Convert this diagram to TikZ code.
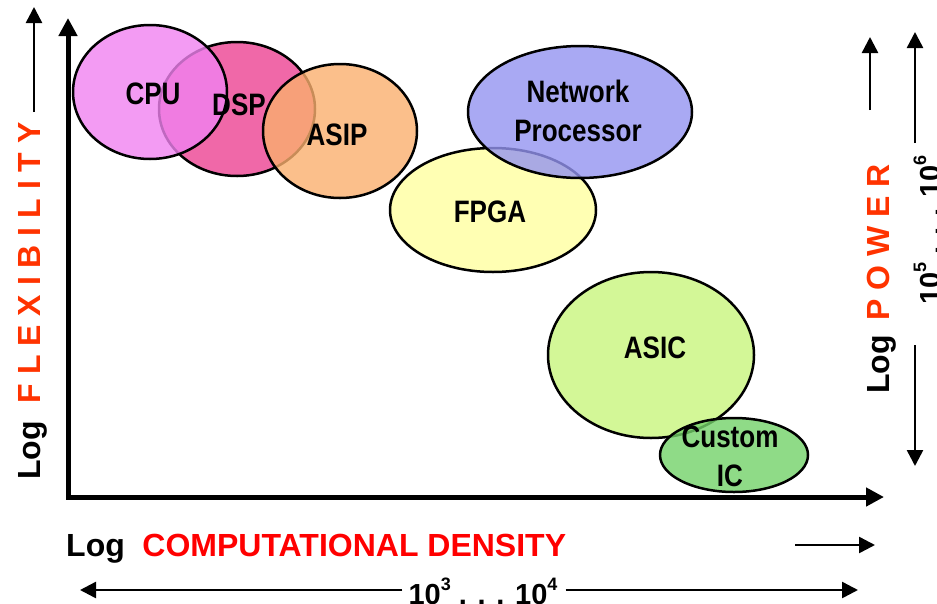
\documentclass[tikz,border=0pt]{standalone}
\usepackage{fontspec}
\setmainfont{Liberation Sans}
\usetikzlibrary{arrows.meta}

\definecolor{cpuFill}{RGB}{240,130,240}
\definecolor{dspFill}{RGB}{236,66,146}
\definecolor{asipFill}{RGB}{250,175,110}
\definecolor{fpgaFill}{RGB}{255,255,160}
\definecolor{npFill}{RGB}{148,148,240}
\definecolor{asicFill}{RGB}{200,245,125}
\definecolor{cicFill}{RGB}{115,210,105}
\definecolor{densRed}{RGB}{255,0,0}
\definecolor{axisOrange}{RGB}{255,51,0}

% small raised exponent for the scale labels
\newcommand\expnum[1]{\raisebox{14pt}{\fontsize{18}{18}\selectfont #1}}

\begin{document}
\begin{tikzpicture}[x=1pt,y=-1pt,
  blob/.style={draw=black,line width=2.5pt,fill opacity=0.8},
  blobtext/.style={font=\fontsize{31}{39}\selectfont\bfseries,xscale=0.84,align=center,inner sep=0pt},
  axistext/.style={font=\fontsize{32}{32}\selectfont\bfseries,inner sep=0pt},
  scaletext/.style={font=\fontsize{29}{29}\selectfont\bfseries,inner sep=0pt},
  axisline/.style={line width=5pt,line join=miter,
    arrows={Triangle[length=18pt,width=18pt]-Triangle[length=18pt,width=18pt]}},
  thinarrow/.style={line width=2.5pt,-{Triangle[length=16pt,width=16pt]}},
]
\useasboundingbox (0,0) rectangle (937,603);
\clip (0,0) rectangle (937,603);

% technology regions (lower ones first)
\draw[blob,fill=dspFill]  (237,109) ellipse [x radius=78,  y radius=67];
\draw[blob,fill=cpuFill]  (150,92)  ellipse [x radius=77,  y radius=67];
\draw[blob,fill=asipFill] (340,131) ellipse [x radius=77,  y radius=67];
\draw[blob,fill=fpgaFill] (493,210) ellipse [x radius=103, y radius=62];
\draw[blob,fill=npFill]   (580,112) ellipse [x radius=112, y radius=66];
\draw[blob,fill=asicFill] (651,355) ellipse [x radius=103, y radius=83];
\draw[blob,fill=cicFill]  (734,455) ellipse [x radius=74,  y radius=37];

% region labels
\node[blobtext] (cpu)  at (153,94)  {CPU};
\node[blobtext] (dsp)  at (239,105) {DSP};
\node[blobtext] (asip) at (337,135) {ASIP};
\node[blobtext] (np)   at (578,111) {Network\\Processor};
\node[blobtext] (fpga) at (490,212) {FPGA};
\node[blobtext] (asic) at (655,348) {ASIC};
\node[blobtext] (cic)  at (730,456) {Custom\\IC};

% axes
\coordinate (origin) at (68,497);
\coordinate (ytip) at (68,18);
\coordinate (xtip) at (884,497);
\draw[axisline] (ytip) -- (origin) -- (xtip);

% axis titles
\node[axistext,rotate=90,anchor=base] (flex) at (40,301)
  {Log\hspace{0.55em}{\color{axisOrange}F L E X I B I L I T Y}};
\node[axistext,anchor=base west] (dens) at (66,556)
  {Log\hspace{0.55em}{\color{densRed}COMPUTATIONAL DENSITY}};
\node[axistext,rotate=90,anchor=base] (power) at (889,279)
  {Log\hspace{0.45em}{\color{axisOrange}P O W E R}};

% direction arrows beside the titles
\coordinate (flexA) at (34,112);
\coordinate (flexB) at (34,7);
\draw[thinarrow] (flexA) -- (flexB);
\coordinate (densA) at (795,545);
\coordinate (densB) at (875,545);
\draw[thinarrow] (densA) -- (densB);
\coordinate (powA) at (870,110);
\coordinate (powB) at (870,37);
\draw[thinarrow] (powA) -- (powB);

% scale ranges
\node[scaletext,anchor=base] (xrange) at (483,604)
  {10\expnum{3} . . . 10\expnum{4}};
\coordinate (xrL) at (80,590);
\coordinate (xrR) at (858,590);
\draw[thinarrow] (xrange.west |- xrL) ++(-6,0) -- (xrL);
\draw[thinarrow] (xrange.east |- xrR) ++(8,0) -- (xrR);

\node[scaletext,rotate=90,anchor=base] (prange) at (940,230)
  {10\expnum{5} . . . 10\expnum{6}};
\coordinate (prTopA) at (915,143);
\coordinate (prTopB) at (915,32);
\coordinate (prBotA) at (915,345);
\coordinate (prBotB) at (915,466);
\draw[thinarrow] (prTopA) -- (prTopB);
\draw[thinarrow] (prBotA) -- (prBotB);
\end{tikzpicture}
\end{document}
